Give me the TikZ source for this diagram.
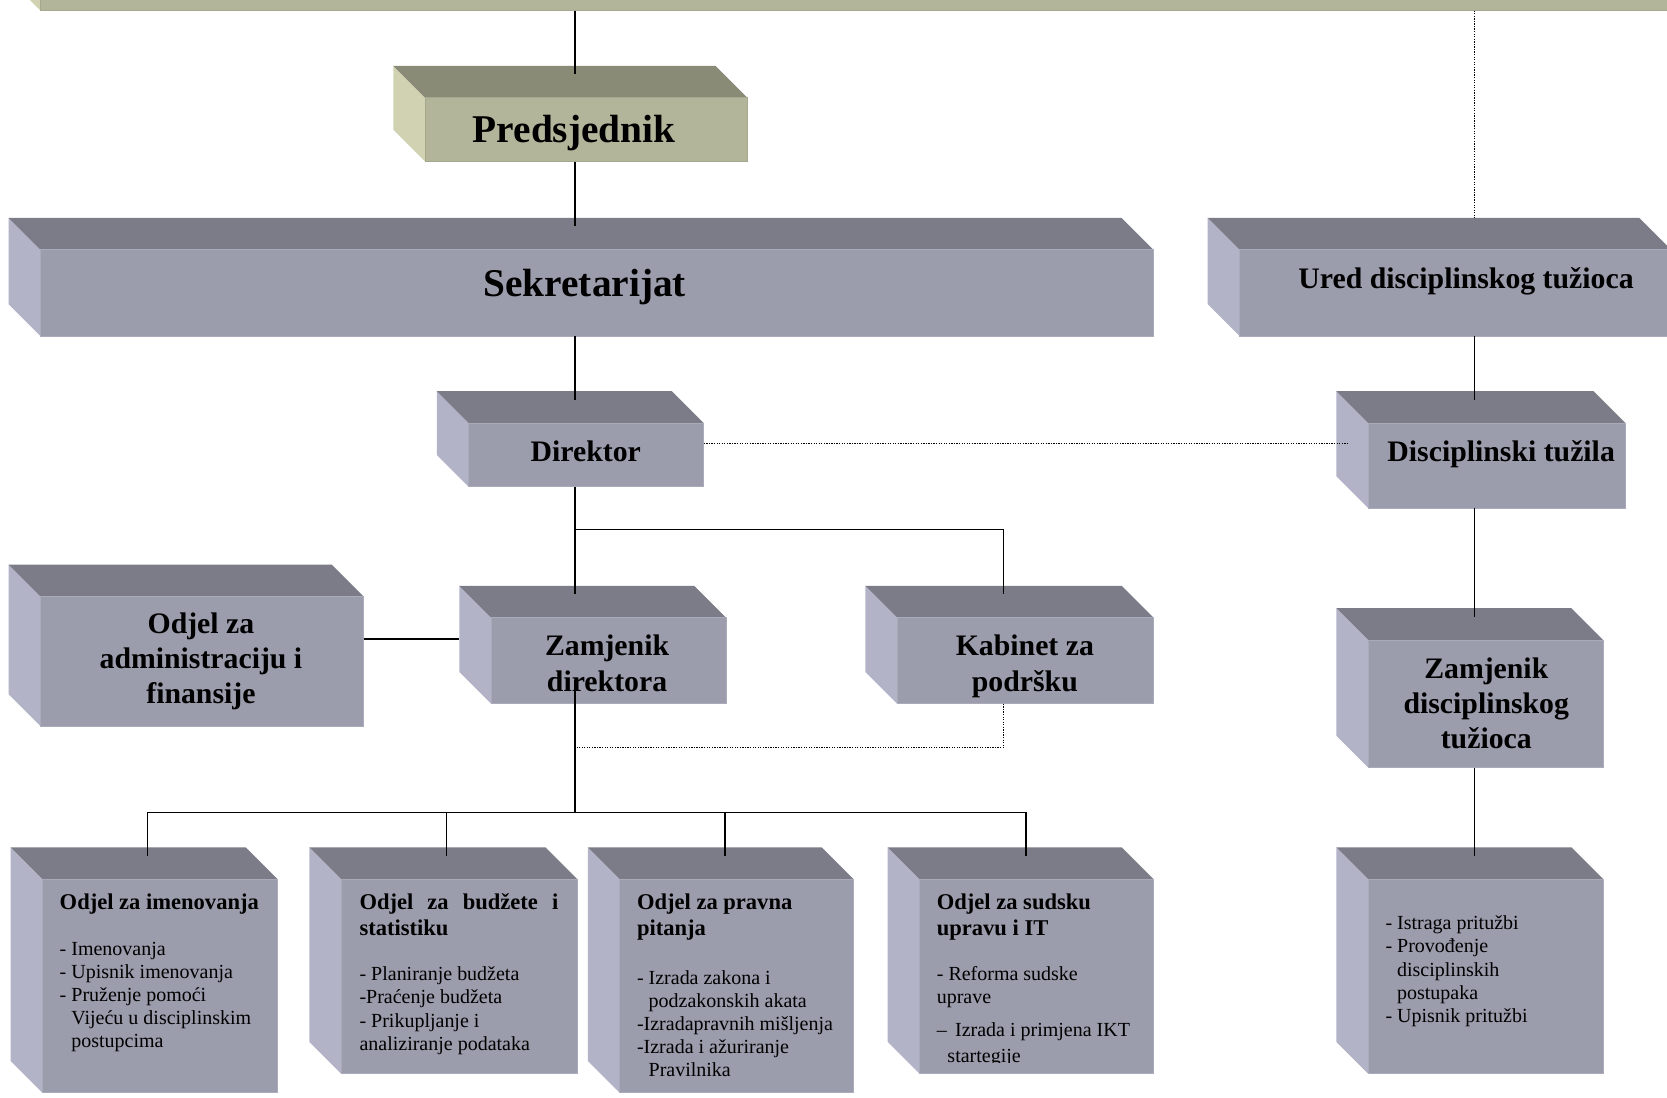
\documentclass[tikz,border=0pt]{standalone}
\usepackage{fontspec}
\setmainfont{Liberation Serif}
\usetikzlibrary{calc}

% face colours of the 3-D slabs
\definecolor{grayfront}{HTML}{9B9CAC}
\definecolor{graytop}{HTML}{7B7C87}
\definecolor{grayleft}{HTML}{B2B3C7}
\definecolor{grayedge}{HTML}{AAABBA}
\definecolor{olivefront}{HTML}{B3B59A}
\definecolor{olivetop}{HTML}{8A8B76}
\definecolor{oliveleft}{HTML}{D0D2B2}
\definecolor{oliveedge}{HTML}{A6A88E}

\tikzset{
  face/.style={fill=#1front, draw=#1edge, line width=0.8pt, inner sep=0pt, outer sep=0pt},
  conn/.style={draw=black, line width=1.3pt},
  dots/.style={draw=black, line width=1.1pt, dash pattern=on 1.2pt off 1.2pt},
  big/.style={inner sep=0pt, anchor=base, font=\fontsize{37}{44}\selectfont\bfseries},
  mid/.style={inner sep=0pt, anchor=base, font=\fontsize{28}{33}\selectfont\bfseries},
  head/.style={inner sep=0pt, anchor=base west, font=\fontsize{21.2}{25}\selectfont\bfseries},
  body/.style={inner sep=0pt, anchor=base west, font=\fontsize{18.8}{21.75}\selectfont},
}

% 3-D slab: [colour scheme]{name}{x0}{y0}{x1}{y1} of the front face, depth 30 up-left
\newcommand{\slab}[6][gray]{%
  \fill[#1left] (#3,#4) -- ++(-30,-30) -- (#3-30,#6-30) -- (#3,#6) -- cycle;
  \fill[#1top] (#3,#4) -- ++(-30,-30) -- (#5-30,#4-30) -- (#5,#4) -- cycle;
  \node[face=#1, minimum width={#5-(#3)}, minimum height={#6-(#4)}] (#2)
    at ({(#3+#5)/2},{(#4+#6)/2}) {};
}
\newcommand{\lines}[2]{\begin{tabular}[t]{@{}#1@{}}#2\end{tabular}}

\begin{document}
\begin{tikzpicture}[x=1pt, y=-1pt]
\useasboundingbox (0,0) rectangle (1568,1032);
\clip (0,0) rectangle (1568,1032);
\fill[white] (0,0) rectangle (1568,1032);

% ---- slabs ----
\slab[olive]{banner}{38}{-80}{1640}{10}
\slab[olive]{pred}{400}{92}{703}{152}
\slab{sek}{38}{235}{1085}{316}
\slab{ured}{1166}{235}{1572}{316}
\slab{dir}{441}{398}{662}{458}
\slab{dt}{1287}{398}{1529}{478}
\slab{adm}{38}{561}{342}{683}
\slab{zd}{462}{581}{683}{662}
\slab{kab}{844}{581}{1085}{662}
\slab{zdt}{1287}{602}{1508}{722}
\slab{b1}{40}{827}{261}{1028}
\slab{b2}{321}{827}{543}{1010}
\slab{b3}{583}{827}{803}{1028}
\slab{b4}{865}{827}{1085}{1010}
\slab{bdt}{1287}{827}{1508}{1010}

% ---- labels ----
\node[big] (tpred) at (540,134) {Predsjednik};
\node[big] (tsek) at (550,279) {Sekretarijat};
\node[mid] (tured) at (1379,271) {Ured disciplinskog tužioca};
\node[mid] (tdir) at (551,434) {Direktor};
\node[mid] (tdt) at (1412,434) {Disciplinski tužila};
\node[mid] (tadm) at (189,596) {\lines{c}{Odjel za\\administraciju i\\finansije}};
\node[mid] (tzd) at (571,617) {\lines{c}{Zamjenik\\direktora}};
\node[mid] (tkab) at (964,617) {\lines{c}{Kabinet za\\podršku}};
\node[mid] (tzdt) at (1398,638) {\lines{c}{Zamjenik\\disciplinskog\\tužioca}};

\node[head] (h1) at (56,855.4) {Odjel za imenovanja};
\node[body] (c1) at (56,898.6) {\lines{l}{- Imenovanja\\- Upisnik imenovanja\\- Pruženje pomoći\\\hphantom{- }Vijeću u disciplinskim\\\hphantom{- }postupcima}};

\node[head] (h2) at (338,855.4) {\lines{l}{\makebox[187pt][s]{Odjel za budžete i}\\statistiku}};
\node[body] (c2) at (338,922.6) {\lines{l}{- Planiranje budžeta\\-Praćenje budžeta\\- Prikupljanje i\\analiziranje podataka}};

\node[head] (h3) at (599,855.4) {\lines{l}{Odjel za pravna\\pitanja}};
\node[body] (c3) at (599,925.6) {\lines{l}{- Izrada zakona i\\\hphantom{- }podzakonskih akata\\-Izradapravnih mišljenja\\-Izrada i ažuriranje\\\hphantom{- }Pravilnika}};

\node[head] (h4) at (881,855.4) {\lines{l}{Odjel za sudsku\\upravu i IT}};
\node[body] (c4) at (881,922.6) {\lines{l}{- Reforma sudske\\uprave}};
\begin{scope}
  \clip (865,827) rectangle (1085,999.5);
  \node[body, font=\fontsize{18.8}{25}\selectfont] (d4) at (881,974.6)
    {\lines{l}{– \,Izrada i primjena IKT\\\hspace{10pt}startegije}};
\end{scope}

\node[body] (cdt) at (1303,874.6) {\lines{l}{- Istraga pritužbi\\- Provođenje\\\hphantom{- }disciplinskih\\\hphantom{- }postupaka\\- Upisnik pritužbi}};

% ---- connectors ----
\coordinate (spine) at (541,0);
\coordinate (rspine) at (1387,0);
\coordinate (kabx) at (944,0);
\coordinate (busA) at (0,498);
\coordinate (busB) at (0,764);
\coordinate (dotA) at (0,417);
\coordinate (dotB) at (0,703);
\coordinate (admY) at (0,601);

\draw[conn] (banner.south -| spine) -- ([yshift=22pt]pred.north -| spine);
\draw[conn] (pred.south -| spine) -- ([yshift=22pt]sek.north -| spine);
\draw[conn] (sek.south -| spine) -- ([yshift=22pt]dir.north -| spine);
\draw[dots] (banner.south -| rspine) -- ([yshift=30pt]ured.north -| rspine);
\draw[conn] (ured.south -| rspine) -- ([yshift=22pt]dt.north -| rspine);
\draw[conn] (dt.south -| rspine) -- ([yshift=22pt]zdt.north -| rspine);
\draw[conn] (zdt.south -| rspine) -- ([yshift=22pt]bdt.north -| rspine);
\draw[dots] (dir.east |- dotA) -- ([xshift=-19pt]dt.west |- dotA);
\draw[conn] (dir.south -| spine) -- ([yshift=22pt]zd.north -| spine);
\draw[conn] (busA -| spine) -| ([yshift=22pt]kab.north -| kabx);
\draw[conn] (adm.east |- admY) -- ([xshift=-30pt]zd.west |- admY);
\draw[conn] ([yshift=-18pt]zd.center -| spine) -- (busB -| spine);
\draw[dots] (kab.south -| kabx) |- ([xshift=2pt]dotB -| spine);

\coordinate (d1) at ([xshift=-12pt,yshift=22pt]b1.north);
\coordinate (d2) at ([xshift=-12pt,yshift=22pt]b2.north);
\coordinate (d3) at ([xshift=-11pt,yshift=22pt]b3.north);
\coordinate (d4) at ([xshift=-10pt,yshift=22pt]b4.north);
\draw[conn] (d1) |- (busB -| d4) -- (d4);
\draw[conn] (d2) -- (busB -| d2);
\draw[conn] (d3) -- (busB -| d3);
\end{tikzpicture}
\end{document}
